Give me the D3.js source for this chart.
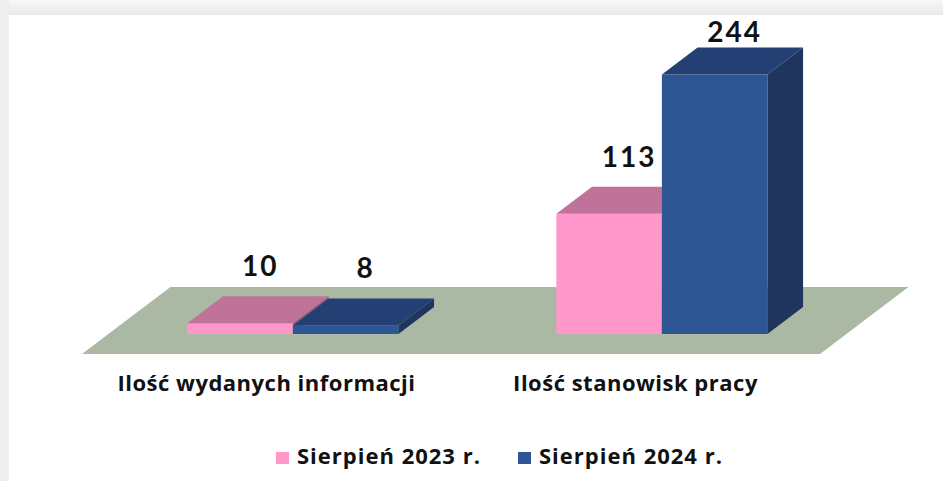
<!DOCTYPE html>
<html>
<head>
<meta charset="utf-8">
<script src="https://cdn.jsdelivr.net/npm/d3@7"></script>
<style>
  html, body { margin: 0; padding: 0; background: #ffffff; }
  svg text { font-family: Lato, "Open Sans", sans-serif; font-weight: 700; fill: #111; }
  svg text.wide { font-family: "Open Sans", Lato, sans-serif; }
</style>
</head>
<body>
<div id="chart"></div>
<script>
// chart data
var categories = ["Ilość wydanych informacji", "Ilość stanowisk pracy"];
var seriesNames = ["Sierpień 2023 r.", "Sierpień 2024 r."];
var values2023 = [10, 113];
var values2024 = [8, 244];

var width = 943, height = 481;

var colors = {
    front: ["#ff97cb", "#2e5594"],
    top: ["#c07399", "#233f73"],
    side: ["#9a5c7b", "#1f355e"]
};

var svg = d3.select("#chart")
    .append("svg")
    .attr("width", width)
    .attr("height", height);

// frame shading on top and left
var grad = svg.append("defs").append("linearGradient")
    .attr("id", "frame-grad")
    .attr("x1", 0).attr("y1", 0).attr("x2", 0).attr("y2", 1);
grad.append("stop").attr("offset", "0%").attr("stop-color", "#f8f8f8");
grad.append("stop").attr("offset", "100%").attr("stop-color", "#e8e8e8");
svg.append("rect").attr("x", 0).attr("y", 0).attr("width", width).attr("height", 15)
    .attr("fill", "url(#frame-grad)");
svg.append("rect").attr("x", 0).attr("y", 0).attr("width", 9).attr("height", height)
    .attr("fill", "#eeeeee");

// 3d projection: depth moves right and up
var kx = 1.32;
var floorDepth = 67, barStart = 20, barDepth = 27;
function P(x, y, d) { return [x + d * kx, y - d]; }

// scales in the front plane of the floor
var x = d3.scaleBand().domain(categories).range([82, 820]);
var groupShare = 0.572;
var x1 = d3.scaleBand().domain(seriesNames)
    .range([0, x.bandwidth() * groupShare]);
var y = d3.scaleLinear().domain([0, 250]).range([354, 88]);

// floor
var f0 = y(0);
var floorPts = [P(82, f0, 0), P(82, f0, floorDepth), P(820, f0, floorDepth), P(820, f0, 0)];
svg.append("polygon")
    .attr("points", floorPts.map(function(p) { return p.join(","); }).join(" "))
    .attr("fill", "#aab8a4");

var bars = [];
categories.forEach(function(c, i) {
    [values2023[i], values2024[i]].forEach(function(v, s) {
        bars.push({ cat: c, s: s, value: v });
    });
});

var line = function(pts) { return pts.map(function(p) { return p.join(","); }).join(" "); };

var g = svg.append("g");
bars.forEach(function(d) {
    var gx = x(d.cat) + (x.bandwidth() - x1.range()[1]) / 2;
    var xl = gx + x1(seriesNames[d.s]);
    var xr = xl + x1.bandwidth();
    var yb = y(0), yt = y(d.value);
    var a = barStart, b = barStart + barDepth;
    // front
    g.append("polygon")
        .attr("points", line([P(xl, yb, a), P(xl, yt, a), P(xr, yt, a), P(xr, yb, a)]))
        .attr("fill", colors.front[d.s]);
    // top
    g.append("polygon")
        .attr("points", line([P(xl, yt, a), P(xl, yt, b), P(xr, yt, b), P(xr, yt, a)]))
        .attr("fill", colors.top[d.s]);
    // side
    g.append("polygon")
        .attr("points", line([P(xr, yb, a), P(xr, yt, a), P(xr, yt, b), P(xr, yb, b)]))
        .attr("fill", colors.side[d.s]);
    d.labelX = (xl + xr) / 2 + barStart * kx + 20;
    d.labelY = Math.max(P(xl, yt, b)[1] - 20, 42);
});

// value labels
svg.append("g").selectAll("text")
    .data(bars)
    .enter().append("text")
    .attr("x", function(d) { return d.labelX; })
    .attr("y", function(d) { return d.labelY; })
    .attr("text-anchor", "middle")
    .style("font-size", "28px")
    .style("letter-spacing", "2px")
    .text(function(d) { return d.value; });

// category labels
svg.append("g").selectAll("text")
    .data(categories)
    .enter().append("text")
    .attr("class", "wide")
    .attr("x", function(d) { return x(d) + x.bandwidth() / 2; })
    .attr("y", 391)
    .attr("text-anchor", "middle")
    .style("font-size", "22px")
    .style("letter-spacing", "0.5px")
    .text(function(d) { return d; });

// legend
var legendX = [276, 518];
var legend = svg.append("g").selectAll("g")
    .data(seriesNames)
    .enter().append("g")
    .attr("transform", function(d, i) { return "translate(" + legendX[i] + ",452)"; });
legend.append("rect")
    .attr("width", 13).attr("height", 12)
    .attr("fill", function(d, i) { return colors.front[i]; });
legend.append("text")
    .attr("class", "wide")
    .attr("x", 21).attr("y", 12)
    .style("font-size", "22px")
    .style("letter-spacing", "1px")
    .text(function(d) { return d; });
</script>
</body>
</html>
